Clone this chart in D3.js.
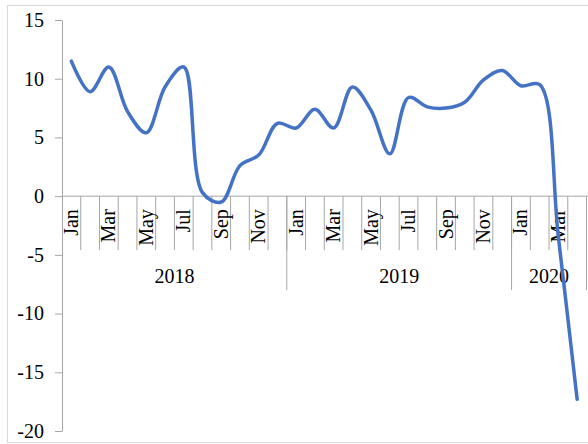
<!DOCTYPE html>
<html>
<head>
<meta charset="utf-8">
<script src="https://cdn.jsdelivr.net/npm/d3@7"></script>
<style>
  html, body { margin: 0; padding: 0; background: #fff; }
  svg { display: block; }
  text { font-family: "Liberation Serif", "Times New Roman", serif; fill: #000; }
</style>
</head>
<body>
<div id="chart-container"></div>
<script>
// monthly values, Jan 2018 .. Apr 2020
const months = ["Jan","Feb","Mar","Apr","May","Jun","Jul","Aug","Sep","Oct","Nov","Dec",
                "Jan","Feb","Mar","Apr","May","Jun","Jul","Aug","Sep","Oct","Nov","Dec",
                "Jan","Feb","Mar","Apr"]
const values = [11.5, 8.9, 11.0, 7.2, 5.4, 9.3, 11.0, 0.3, -0.5, 2.6, 3.5, 6.2,
                5.8, 7.4, 5.8, 9.3, 7.3, 3.6, 8.4, 7.6, 7.5, 8.0, 9.9, 10.7,
                9.4, 9.5, -3.5, -17.3]
const years = ["2018", "2019", "2020"]
const yearCounts = [12, 12, 4]
const yTicks = [-20, -15, -10, -5, 0, 5, 10, 15]

const W = 588, H = 444
const margin = {left: 62, right: 586.5, top: 20, bottom: 431}

const svg = d3.select("#chart-container")
    .append("svg")
    .attr("width", W)
    .attr("height", H)

// chart border (right side runs off the picture)
svg.append("rect")
    .attr("x", 7.5).attr("y", 5.5)
    .attr("width", 600).attr("height", 437)
    .attr("fill", "none")
    .attr("stroke", "#d9d9d9")
    .attr("stroke-width", 1)

const x = d3.scaleBand()
    .domain(d3.range(values.length))
    .range([margin.left, margin.right])
    .paddingInner(0).paddingOuter(0)

const y = d3.scaleLinear()
    .domain([-20, 15])
    .range([margin.bottom, margin.top])

const axisColor = "#a6a6a6"

// value axis
svg.append("g")
    .attr("transform", `translate(${margin.left},0)`)
    .style("font-size", "20px")
    .call(d3.axisLeft(y).tickValues(yTicks).tickFormat(d => String(d))
        .tickSize(7).tickPadding(11).tickSizeOuter(0))
    .call(g => g.select(".domain").attr("stroke", axisColor))
    .call(g => g.selectAll(".tick line").attr("stroke", axisColor))
    .call(g => g.selectAll(".tick text")
        .style("font-family", "'Liberation Serif', serif")
        .attr("fill", "#000"))

const y0 = y(0)

// category axis line
svg.append("line")
    .attr("x1", margin.left).attr("x2", W + 2)
    .attr("y1", y0).attr("y2", y0)
    .attr("stroke", axisColor)

// dividers between months
svg.selectAll("line.mdiv")
    .data(d3.range(1, values.length))
    .join("line")
    .attr("class", "mdiv")
    .attr("x1", d => x(d)).attr("x2", d => x(d))
    .attr("y1", y0).attr("y2", y0 + 54)
    .attr("stroke", axisColor)

// year dividers
const yearStarts = []
let acc = 0
yearCounts.forEach(c => { yearStarts.push(acc); acc += c })

svg.selectAll("line.ydiv")
    .data(yearStarts.slice(1).concat([acc]))
    .join("line")
    .attr("class", "ydiv")
    .attr("x1", d => d < values.length ? x(d) : margin.right)
    .attr("x2", d => d < values.length ? x(d) : margin.right)
    .attr("y1", y0).attr("y2", y0 + 94)
    .attr("stroke", axisColor)

// month labels, every other one
svg.selectAll("text.month")
    .data(months.map((m, i) => ({m, i})).filter(d => d.i % 2 === 0))
    .join("text")
    .attr("class", "month")
    .attr("transform", d => `translate(${x(d.i) + x.bandwidth() / 2 + 6.5},${y0 + 13}) rotate(-90)`)
    .attr("text-anchor", "end")
    .style("font-size", "20px")
    .text(d => d.m)

// year labels
svg.selectAll("text.year")
    .data(years.map((yr, i) => ({yr, start: yearStarts[i], n: yearCounts[i]})))
    .join("text")
    .attr("class", "year")
    .attr("x", d => x(d.start) + d.n * x.bandwidth() / 2)
    .attr("y", y0 + 87)
    .attr("text-anchor", "middle")
    .style("font-size", "20px")
    .text(d => d.yr)

// series
const line = d3.line()
    .x((d, i) => x(i) + x.bandwidth() / 2)
    .y(d => y(d))
    .curve(d3.curveCatmullRom.alpha(0.5))

svg.append("path")
    .datum(values)
    .attr("fill", "none")
    .attr("stroke", "#4472c4")
    .attr("stroke-width", 3.5)
    .attr("stroke-linecap", "round")
    .attr("stroke-linejoin", "round")
    .attr("d", line)
</script>
</body>
</html>
